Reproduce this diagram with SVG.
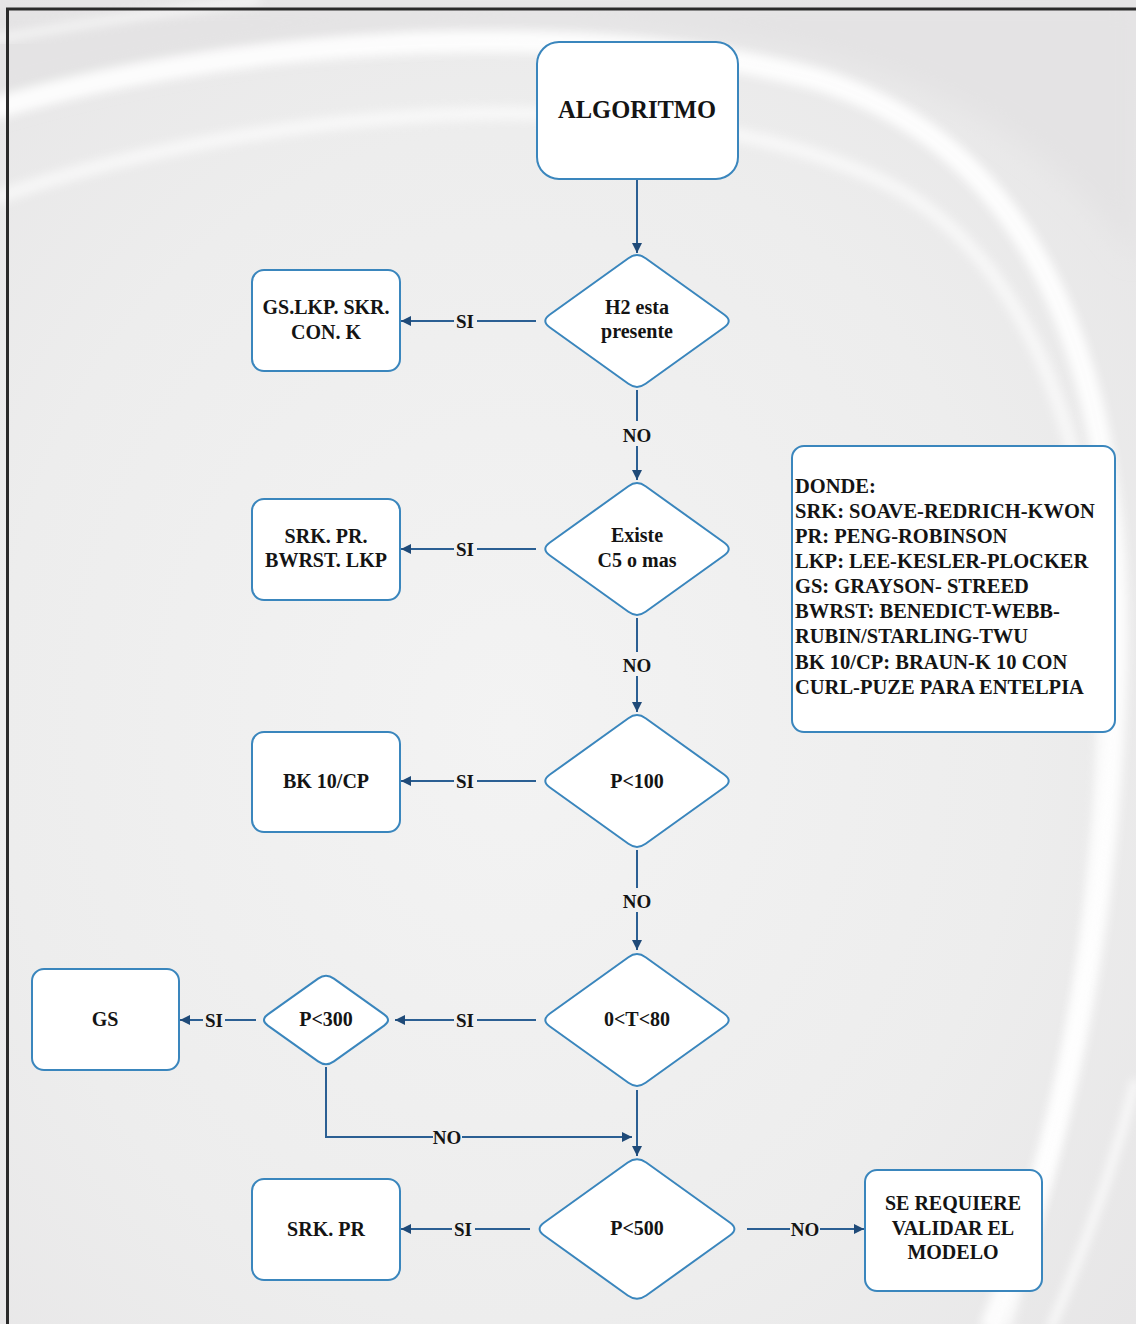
<svg xmlns="http://www.w3.org/2000/svg" width="1136" height="1324" viewBox="0 0 1136 1324">
  <defs>
    <radialGradient id="bgGrad" cx="0.45" cy="0.55" r="0.75">
      <stop offset="0" stop-color="#f3f3f3"/>
      <stop offset="0.6" stop-color="#ededed"/>
      <stop offset="1" stop-color="#e6e5e6"/>
    </radialGradient>
    <filter id="soft" x="-10%" y="-10%" width="120%" height="120%">
      <feGaussianBlur stdDeviation="5"/>
    </filter>
    <filter id="softer" x="-10%" y="-10%" width="120%" height="120%">
      <feGaussianBlur stdDeviation="12"/>
    </filter>
    <marker id="arrow" viewBox="0 0 10 10" refX="10" refY="5" markerWidth="10" markerHeight="10" markerUnits="userSpaceOnUse" orient="auto">
      <path d="M0,0 L10,5 L0,10 Z" fill="#1f4a78"/>
    </marker>
    <!-- rounded diamonds, centred on the origin -->
    <path id="dia" d="M -8.6,-62.8 Q 0,-69 8.6,-62.8 L 87.4,-6.2 Q 96,0 87.4,6.2 L 8.6,62.8 Q 0,69 -8.6,62.8 L -87.4,6.2 Q -96,0 -87.4,-6.2 Z"/>
    <path id="diaBig" d="M -9.2,-66.5 Q 0,-73 9.2,-66.5 L 92.8,-6.5 Q 102,0 92.8,6.5 L 9.2,66.5 Q 0,73 -9.2,66.5 L -92.8,6.5 Q -102,0 -92.8,-6.5 Z"/>
    <path id="diaSmall" d="M -7.9,-41.4 Q 0,-47 7.9,-41.4 L 58.1,-5.6 Q 66,0 58.1,5.6 L 7.9,41.4 Q 0,47 -7.9,41.4 L -58.1,5.6 Q -66,0 -58.1,-5.6 Z"/>
  </defs>
  <style>
    .shape { fill: #ffffff; stroke: #3a86bd; stroke-width: 2; }
    .conn { fill: none; stroke: #2b5f93; stroke-width: 2; }
    .t { font-family: "Liberation Serif", "Times New Roman", serif; font-weight: bold; font-size: 20px; fill: #141414; text-anchor: middle; }
    .lbl { font-family: "Liberation Serif", "Times New Roman", serif; font-weight: bold; font-size: 19px; fill: #141414; text-anchor: middle; }
    .legend { font-family: "Liberation Serif", "Times New Roman", serif; font-weight: bold; font-size: 20.5px; fill: #141414; }
  </style>

  <!-- backdrop with white swooshes -->
  <rect x="0" y="0" width="1136" height="1324" fill="url(#bgGrad)"/>
  <path d="M -20,0 L 1136,0 L 1136,260 C 1040,120 880,40 600,30 C 350,25 150,60 -20,110 Z" fill="#e4e3e4" filter="url(#softer)"/>
  <path d="M -10,110 C 200,45 560,10 820,80 C 1040,150 1130,380 1115,700 C 1105,950 1060,1150 990,1330" fill="none" stroke="#ffffff" stroke-width="22" opacity="0.9" filter="url(#soft)"/>
  <path d="M -10,200 C 240,110 640,70 880,180 C 1070,270 1125,560 1095,860 C 1080,1050 1040,1200 1005,1330" fill="none" stroke="#ffffff" stroke-width="14" opacity="0.6" filter="url(#soft)"/>
  <path d="M -10,40 C 100,20 180,10 260,0" fill="none" stroke="#f8f8f8" stroke-width="10" opacity="0.7" filter="url(#soft)"/>
  <path d="M 1136,1080 C 1110,1180 1080,1260 1050,1330" fill="none" stroke="#ffffff" stroke-width="8" opacity="0.8" filter="url(#soft)"/>

  <!-- page frame -->
  <path d="M 7.5,1324 L 7.5,9 L 1136,9" fill="none" stroke="#2a2a2a" stroke-width="3"/>

  <!-- connectors -->
  <g id="connectors">
    <line class="conn" x1="637" y1="179" x2="637" y2="253" marker-end="url(#arrow)"/>

    <line class="conn" x1="536" y1="321" x2="477" y2="321"/>
    <line class="conn" x1="454" y1="321" x2="401" y2="321" marker-end="url(#arrow)"/>
    <line class="conn" x1="637" y1="390" x2="637" y2="421"/>
    <line class="conn" x1="637" y1="446" x2="637" y2="480" marker-end="url(#arrow)"/>

    <line class="conn" x1="536" y1="549" x2="477" y2="549"/>
    <line class="conn" x1="454" y1="549" x2="401" y2="549" marker-end="url(#arrow)"/>
    <line class="conn" x1="637" y1="618" x2="637" y2="652"/>
    <line class="conn" x1="637" y1="676" x2="637" y2="712" marker-end="url(#arrow)"/>

    <line class="conn" x1="536" y1="781" x2="477" y2="781"/>
    <line class="conn" x1="454" y1="781" x2="401" y2="781" marker-end="url(#arrow)"/>
    <line class="conn" x1="637" y1="850" x2="637" y2="888"/>
    <line class="conn" x1="637" y1="912" x2="637" y2="950" marker-end="url(#arrow)"/>

    <line class="conn" x1="536" y1="1020" x2="477" y2="1020"/>
    <line class="conn" x1="454" y1="1020" x2="395" y2="1020" marker-end="url(#arrow)"/>
    <line class="conn" x1="256" y1="1020" x2="225" y2="1020"/>
    <line class="conn" x1="203" y1="1020" x2="180" y2="1020" marker-end="url(#arrow)"/>

    <path class="conn" d="M 326,1067 L 326,1137 L 433,1137"/>
    <line class="conn" x1="462" y1="1137" x2="632" y2="1137" marker-end="url(#arrow)"/>
    <line class="conn" x1="637" y1="1090" x2="637" y2="1156" marker-end="url(#arrow)"/>

    <line class="conn" x1="530" y1="1229" x2="475" y2="1229"/>
    <line class="conn" x1="452" y1="1229" x2="401" y2="1229" marker-end="url(#arrow)"/>
    <line class="conn" x1="747" y1="1229" x2="790" y2="1229"/>
    <line class="conn" x1="820" y1="1229" x2="864" y2="1229" marker-end="url(#arrow)"/>

    <!-- branch labels -->
    <text class="lbl" x="465" y="328">SI</text>
    <text class="lbl" x="637" y="442">NO</text>
    <text class="lbl" x="465" y="556">SI</text>
    <text class="lbl" x="637" y="672">NO</text>
    <text class="lbl" x="465" y="788">SI</text>
    <text class="lbl" x="637" y="908">NO</text>
    <text class="lbl" x="465" y="1027">SI</text>
    <text class="lbl" x="214" y="1027">SI</text>
    <text class="lbl" x="447" y="1144">NO</text>
    <text class="lbl" x="463" y="1236">SI</text>
    <text class="lbl" x="805" y="1236">NO</text>
  </g>

  <!-- nodes -->
  <g id="node-algoritmo">
    <rect class="shape" x="537" y="42" width="201" height="137" rx="22"/>
    <text class="t" x="637" y="118" style="font-size:24.5px">ALGORITMO</text>
  </g>

  <g id="node-h2">
    <use href="#dia" class="shape" x="637" y="321"/>
    <text class="t" x="637" y="314">H2 esta</text>
    <text class="t" x="637" y="338">presente</text>
  </g>
  <g id="node-gs-lkp">
    <rect class="shape" x="252" y="270" width="148" height="101" rx="12"/>
    <text class="t" x="326" y="314">GS.LKP. SKR.</text>
    <text class="t" x="326" y="339">CON. K</text>
  </g>

  <g id="node-c5">
    <use href="#dia" class="shape" x="637" y="549"/>
    <text class="t" x="637" y="542">Existe</text>
    <text class="t" x="637" y="567">C5 o mas</text>
  </g>
  <g id="node-srk-pr-bwrst">
    <rect class="shape" x="252" y="499" width="148" height="101" rx="12"/>
    <text class="t" x="326" y="543">SRK. PR.</text>
    <text class="t" x="326" y="567">BWRST. LKP</text>
  </g>

  <g id="node-p100">
    <use href="#dia" class="shape" x="637" y="781"/>
    <text class="t" x="637" y="788">P&lt;100</text>
  </g>
  <g id="node-bk10">
    <rect class="shape" x="252" y="732" width="148" height="100" rx="12"/>
    <text class="t" x="326" y="788">BK 10/CP</text>
  </g>

  <g id="node-t80">
    <use href="#dia" class="shape" x="637" y="1020"/>
    <text class="t" x="637" y="1026">0&lt;T&lt;80</text>
  </g>
  <g id="node-p300">
    <use href="#diaSmall" class="shape" x="326" y="1020"/>
    <text class="t" x="326" y="1026">P&lt;300</text>
  </g>
  <g id="node-gs">
    <rect class="shape" x="32" y="969" width="147" height="101" rx="12"/>
    <text class="t" x="105" y="1026">GS</text>
  </g>

  <g id="node-p500">
    <use href="#diaBig" class="shape" x="637" y="1229"/>
    <text class="t" x="637" y="1235">P&lt;500</text>
  </g>
  <g id="node-srk-pr">
    <rect class="shape" x="252" y="1179" width="148" height="101" rx="12"/>
    <text class="t" x="326" y="1236">SRK. PR</text>
  </g>
  <g id="node-validar">
    <rect class="shape" x="865" y="1170" width="177" height="121" rx="12"/>
    <text class="t" x="953" y="1210">SE REQUIERE</text>
    <text class="t" x="953" y="1235">VALIDAR EL</text>
    <text class="t" x="953" y="1259">MODELO</text>
  </g>

  <g id="node-legend">
    <rect class="shape" x="792" y="446" width="323" height="286" rx="12"/>
    <text class="legend" x="795" y="493">DONDE:</text>
    <text class="legend" x="795" y="518">SRK: SOAVE-REDRICH-KWON</text>
    <text class="legend" x="795" y="543">PR: PENG-ROBINSON</text>
    <text class="legend" x="795" y="568">LKP: LEE-KESLER-PLOCKER</text>
    <text class="legend" x="795" y="593">GS: GRAYSON- STREED</text>
    <text class="legend" x="795" y="618">BWRST: BENEDICT-WEBB-</text>
    <text class="legend" x="795" y="643">RUBIN/STARLING-TWU</text>
    <text class="legend" x="795" y="669">BK 10/CP: BRAUN-K 10 CON</text>
    <text class="legend" x="795" y="694">CURL-PUZE PARA ENTELPIA</text>
  </g>
</svg>
